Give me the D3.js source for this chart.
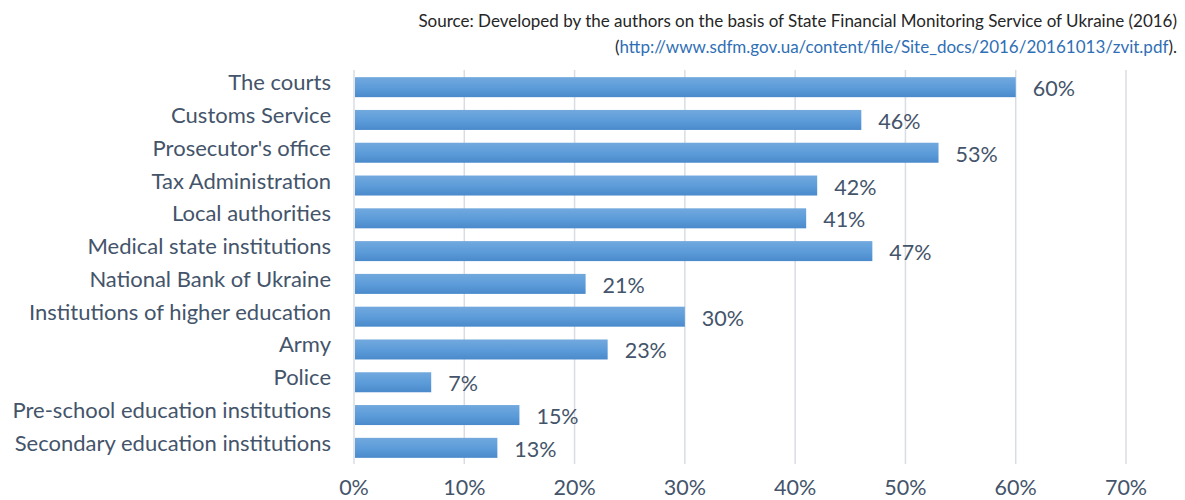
<!DOCTYPE html>
<html><head><meta charset="utf-8">
<script src="https://cdn.jsdelivr.net/npm/d3@7"></script>
<style>body{margin:0;background:#fff;}svg{display:block;}</style>
</head><body>
<script>
const categories = ["The courts","Customs Service","Prosecutor's office","Tax Administration","Local authorities","Medical state institutions","National Bank of Ukraine","Institutions of higher education","Army","Police","Pre-school education institutions","Secondary education institutions"];
const values = [60,46,53,42,41,47,21,30,23,7,15,13];
const xTicks = [0,10,20,30,40,50,60,70];
const sourceLine1 = "Source: Developed by the authors on the basis of State Financial Monitoring Service of Ukraine (2016)";
const sourceUrl = "http://www.sdfm.gov.ua/content/file/Site_docs/2016/20161013/zvit.pdf";

const W = 1185, H = 500;
const font = "Lato, 'Open Sans', sans-serif";
const svg = d3.select("body").append("svg").attr("width", W).attr("height", H);

const defs = svg.append("defs");
const g = defs.append("linearGradient").attr("id","barGrad").attr("x1",0).attr("y1",0).attr("x2",0).attr("y2",1);
g.append("stop").attr("offset","0%").attr("stop-color","#72a9de");
g.append("stop").attr("offset","55%").attr("stop-color","#5b9bd9");
g.append("stop").attr("offset","100%").attr("stop-color","#4a8acb");

const x = d3.scaleLinear().domain([0,70]).range([354,1126]);
const y = d3.scaleBand().domain(categories).range([70.6,464.4]).paddingInner(0.39).paddingOuter(0.2);

// gridlines
svg.append("g").selectAll("line").data(xTicks).join("line")
  .attr("x1", d=>x(d)).attr("x2", d=>x(d))
  .attr("y1", 70).attr("y2", 464)
  .attr("stroke", "#d9dde3").attr("stroke-width", 1.5);

// bars
svg.append("g").selectAll("rect").data(values).join("rect")
  .attr("x", x(0)+1)
  .attr("y", (d,i)=>y(categories[i]))
  .attr("width", d=>x(d)-x(0)-1)
  .attr("height", y.bandwidth())
  .attr("fill","url(#barGrad)");

// value labels
svg.append("g").selectAll("text").data(values).join("text")
  .attr("x", d=>x(d)+17)
  .attr("y", (d,i)=>y(categories[i])+y.bandwidth()/2+9)
  .attr("font-family", font).attr("font-size", 21.5).attr("fill","#44546a")
  .text(d=>d+"%");

// category labels
svg.append("g").selectAll("text").data(categories).join("text")
  .attr("x", 331)
  .attr("y", d=>y(d)+y.bandwidth()/2+3)
  .attr("text-anchor","end")
  .attr("font-family", font).attr("font-size", 22).attr("fill","#44546a")
  .text(d=>d);

// x axis labels
svg.append("g").selectAll("text").data(xTicks).join("text")
  .attr("x", d=>x(d))
  .attr("y", 495)
  .attr("text-anchor","middle")
  .attr("font-family", font).attr("font-size", 21.5).attr("fill","#44546a")
  .text(d=>d+"%");

// source
svg.append("text").attr("x",1177).attr("y",27).attr("text-anchor","end")
  .attr("font-family", font).attr("font-size", 17).attr("fill","#262626")
  .text(sourceLine1);
const t2 = svg.append("text").attr("x",1177).attr("y",53).attr("text-anchor","end")
  .attr("font-family", font).attr("font-size", 17).attr("fill","#262626");
t2.append("tspan").text("(");
t2.append("tspan").attr("fill","#2f6fb5").text(sourceUrl);
t2.append("tspan").text(").");
</script>
</body></html>
